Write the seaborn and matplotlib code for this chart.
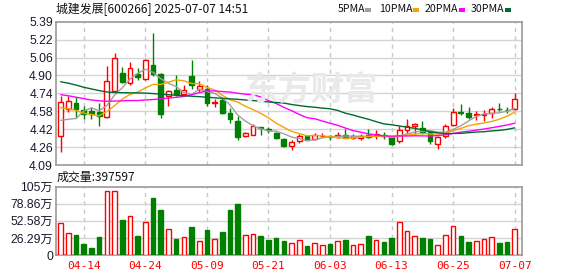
import numpy as np
import pandas as pd
import matplotlib
matplotlib.use("Agg")
import matplotlib.pyplot as plt
from matplotlib.patches import Rectangle
import seaborn as sns

# ---------------- data ----------------
dates = ["04-09", "04-10", "04-11", "04-14", "04-15", "04-16", "04-17", "04-18", "04-21", "04-22",
         "04-23", "04-24", "04-25", "04-28", "04-29", "04-30", "05-06", "05-07", "05-08", "05-09",
         "05-12", "05-13", "05-14", "05-15", "05-16", "05-19", "05-20", "05-21", "05-22", "05-23",
         "05-26", "05-27", "05-28", "05-29", "05-30", "06-03", "06-04", "06-05", "06-06", "06-09",
         "06-10", "06-11", "06-12", "06-13", "06-16", "06-17", "06-18", "06-19", "06-20", "06-23",
         "06-24", "06-25", "06-26", "06-27", "06-30", "07-01", "07-02", "07-03", "07-04", "07-07"]

open_ = [4.350, 4.600, 4.650, 4.589, 4.580, 4.571, 4.528, 4.764, 4.927, 4.831,
         4.918, 4.867, 4.997, 4.914, 4.714, 4.771, 4.735, 4.897, 4.783, 4.781,
         4.652, 4.678, 4.561, 4.491, 4.350, 4.365, 4.432, 4.415, 4.380, 4.325,
         4.260, 4.310, 4.349, 4.328, 4.350, 4.352, 4.343, 4.365, 4.334, 4.337,
         4.360, 4.360, 4.362, 4.345, 4.307, 4.412, 4.446, 4.425, 4.385, 4.277,
         4.352, 4.456, 4.570, 4.560, 4.543, 4.545, 4.558, 4.600, 4.592, 4.595]
close = [4.664, 4.674, 4.595, 4.555, 4.553, 4.535, 4.852, 5.057, 4.846, 4.967,
         4.884, 5.042, 4.915, 4.557, 4.759, 4.738, 4.769, 4.817, 4.808, 4.651,
         4.660, 4.560, 4.506, 4.343, 4.380, 4.440, 4.424, 4.409, 4.331, 4.259,
         4.299, 4.350, 4.318, 4.365, 4.353, 4.340, 4.365, 4.337, 4.349, 4.355,
         4.345, 4.368, 4.350, 4.285, 4.412, 4.445, 4.458, 4.390, 4.310, 4.343,
         4.445, 4.572, 4.562, 4.525, 4.550, 4.556, 4.595, 4.595, 4.587, 4.692]
high = [4.715, 4.717, 4.708, 4.622, 4.615, 4.648, 4.988, 5.109, 4.976, 5.021,
        4.968, 5.048, 5.288, 4.925, 4.770, 4.907, 4.817, 5.043, 4.853, 4.817,
        4.690, 4.695, 4.606, 4.530, 4.389, 4.464, 4.436, 4.434, 4.392, 4.334,
        4.320, 4.371, 4.352, 4.380, 4.380, 4.365, 4.386, 4.416, 4.368, 4.374,
        4.416, 4.410, 4.385, 4.347, 4.440, 4.505, 4.470, 4.488, 4.390, 4.355,
        4.466, 4.607, 4.645, 4.614, 4.583, 4.588, 4.612, 4.648, 4.612, 4.740]
low = [4.204, 4.567, 4.515, 4.510, 4.508, 4.444, 4.515, 4.748, 4.831, 4.813,
       4.862, 4.862, 4.893, 4.515, 4.627, 4.716, 4.716, 4.783, 4.755, 4.627,
       4.615, 4.553, 4.470, 4.313, 4.340, 4.362, 4.362, 4.380, 4.325, 4.250,
       4.225, 4.290, 4.313, 4.319, 4.340, 4.319, 4.334, 4.331, 4.330, 4.319,
       4.335, 4.328, 4.322, 4.272, 4.290, 4.370, 4.370, 4.370, 4.280, 4.238,
       4.335, 4.444, 4.540, 4.505, 4.500, 4.490, 4.520, 4.580, 4.560, 4.590]

# volume in 万 (10k shares)
volume = [48.7, 33.3, 30.3, 16.9, 10.8, 27.2, 98.0, 98.0, 53.9, 59.5,
          29.2, 50.3, 87.7, 69.2, 39.5, 24.6, 27.2, 42.6, 21.5, 38.5,
          24.6, 35.4, 69.2, 78.5, 30.3, 31.8, 29.2, 23.1, 26.2, 21.5,
          18.5, 22.6, 13.8, 18.0, 14.9, 16.9, 21.5, 23.1, 14.9, 16.9,
          29.2, 22.6, 20.0, 26.2, 50.3, 36.4, 29.2, 26.2, 24.6, 14.9,
          30.3, 44.1, 29.2, 20.0, 21.5, 24.1, 27.2, 18.5, 20.0, 39.76]

ma5 = [4.495, 4.505, 4.512, 4.580, 4.608, 4.582, 4.630, 4.725, 4.790, 4.870,
       4.921, 4.959, 4.931, 4.873, 4.831, 4.802, 4.748, 4.728, 4.778, 4.757,
       4.740, 4.698, 4.636, 4.543, 4.489, 4.446, 4.419, 4.399, 4.397, 4.373,
       4.344, 4.330, 4.311, 4.318, 4.336, 4.346, 4.349, 4.353, 4.350, 4.351,
       4.350, 4.351, 4.353, 4.341, 4.352, 4.372, 4.389, 4.397, 4.402, 4.388,
       4.388, 4.412, 4.446, 4.489, 4.531, 4.553, 4.558, 4.564, 4.577, 4.605]
ma10 = [4.610, 4.600, 4.585, 4.560, 4.548, 4.537, 4.575, 4.628, 4.688, 4.730,
        4.752, 4.789, 4.821, 4.821, 4.841, 4.862, 4.854, 4.830, 4.826, 4.794,
        4.771, 4.723, 4.682, 4.661, 4.623, 4.593, 4.559, 4.518, 4.470, 4.431,
        4.395, 4.375, 4.355, 4.358, 4.355, 4.345, 4.340, 4.332, 4.334, 4.344,
        4.348, 4.350, 4.353, 4.346, 4.352, 4.361, 4.370, 4.375, 4.372, 4.370,
        4.380, 4.401, 4.422, 4.446, 4.460, 4.471, 4.485, 4.505, 4.533, 4.568]
ma20 = [4.728, 4.718, 4.705, 4.692, 4.680, 4.672, 4.668, 4.670, 4.672, 4.675,
        4.675, 4.680, 4.684, 4.690, 4.697, 4.704, 4.712, 4.727, 4.746, 4.762,
        4.762, 4.756, 4.752, 4.741, 4.732, 4.728, 4.707, 4.674, 4.648, 4.613,
        4.583, 4.549, 4.519, 4.510, 4.489, 4.469, 4.450, 4.425, 4.402, 4.388,
        4.372, 4.363, 4.354, 4.352, 4.354, 4.353, 4.355, 4.354, 4.353, 4.357,
        4.364, 4.376, 4.388, 4.396, 4.406, 4.416, 4.428, 4.440, 4.453, 4.469]
ma30 = [4.845, 4.832, 4.815, 4.795, 4.780, 4.765, 4.752, 4.748, 4.746, 4.745,
        4.744, 4.742, 4.738, 4.733, 4.728, 4.722, 4.718, 4.714, 4.710, 4.705,
        4.700, 4.695, 4.690, 4.686, 4.680, 4.675, 4.668, 4.662, 4.657, 4.652,
        4.639, 4.629, 4.620, 4.614, 4.606, 4.600, 4.585, 4.560, 4.543, 4.523,
        4.505, 4.483, 4.463, 4.455, 4.444, 4.433, 4.423, 4.409, 4.392, 4.382,
        4.374, 4.376, 4.377, 4.383, 4.389, 4.392, 4.399, 4.404, 4.413, 4.427]

price_ticks = [4.09, 4.26, 4.42, 4.58, 4.74, 4.90, 5.06, 5.22, 5.39]
vol_tick_labels = ["0", "26.29万", "52.58万", "78.86万", "105万"]
vol_max = 105.15
date_tick_labels = ["04-14", "04-24", "05-09", "05-21", "06-03", "06-13", "06-25", "07-07"]
title = "城建发展[600266] 2025-07-07 14:51"
ma_names = ["5PMA", "10PMA", "20PMA", "30PMA"]
ma_colors = ["#a0a0a0", "#f5a300", "#ff00ff", "#006b2e"]
vol_text = "成交量:397597"

# ---------------- style ----------------
sns.set_style("white")
plt.rcParams["font.family"] = ["Liberation Sans", "Noto Sans CJK SC", "DejaVu Sans"]

RED = "#ff0000"
GREEN = "#008000"
GRID = "#d4d4d4"
DASH = "#c8c8c8"
FRAME = "#9a9a9a"
TXT = "#1a1a2e"

W, H = 578, 276
fig = plt.figure(figsize=(W / 100, H / 100), dpi=100)
fig.patch.set_facecolor("white")


def fx(px):
    return px / W


def fy(py):
    return 1 - py / H


L, R = 55.7, 522.3
ax = fig.add_axes([fx(L), fy(165.0), (R - L) / W, (165.0 - 21.7) / H])
axv = fig.add_axes([fx(L), fy(255.0), (R - L) / W, (255.0 - 186.7) / H])

n = len(dates)
x = np.arange(n)
o = np.array(open_)
c = np.array(close)
hi = np.array(high)
lo = np.array(low)
up = c >= o
edge = np.where(up, RED, GREEN)
face = np.where(up, "white", GREEN)

# price ticks evenly spaced between min/max
ymin, ymax = 4.09, 5.39
tick_pos = np.linspace(ymin, ymax, len(price_ticks))

# grid
for yv in tick_pos[1:-1]:
    ax.axhline(yv, color=GRID, lw=1, zorder=0)
tick_idx = [dates.index(d) for d in date_tick_labels]
for ti in tick_idx:
    ax.axvline(ti, color=DASH, lw=1, ls=(0, (3, 3)), zorder=0)
    axv.axvline(ti, color=DASH, lw=1, ls=(0, (3, 3)), zorder=0)

# watermark
fig.text(fx(311), fy(91), "东方财富", fontsize=24, color="#e9e9ec",
         family=["Noto Sans CJK SC"], fontweight="bold", ha="center", va="center", zorder=0)

# candles
ax.vlines(x, lo, hi, colors=edge, lw=1, zorder=2)
bh = np.maximum(np.abs(c - o), 0.004)
ax.bar(x, bh, bottom=np.minimum(o, c), width=0.62, color=face, edgecolor=edge,
       linewidth=1, zorder=3)

# moving averages with seaborn
ma_df = pd.DataFrame({"x": np.tile(x, 4),
                      "val": np.concatenate([ma5, ma10, ma20, ma30]),
                      "ma": np.repeat(ma_names, n)})
sns.lineplot(data=ma_df, x="x", y="val", hue="ma", palette=dict(zip(ma_names, ma_colors)),
             ax=ax, legend=False, linewidth=1.0, zorder=4)

ax.set_xlim(-0.65, n - 1 + 0.99)
ax.set_ylim(ymin, ymax)
ax.set_yticks(tick_pos)
ax.set_yticklabels([f"{t:.2f}" for t in price_ticks])
ax.set_xticks([])
ax.set_xlabel("")
ax.set_ylabel("")
ax.tick_params(axis="y", length=0, pad=2, labelsize=8.7, labelcolor=TXT)
for s in ax.spines.values():
    s.set_color(FRAME)
    s.set_linewidth(1.2)

# volume
for yv in np.linspace(0, vol_max, 5)[1:-1]:
    axv.axhline(yv, color=GRID, lw=1, zorder=0)
axv.bar(x, volume, width=0.6, color=face, edgecolor=edge, linewidth=1, zorder=3)
axv.set_xlim(-0.65, n - 1 + 0.99)
axv.set_ylim(0, vol_max)
axv.set_yticks(np.linspace(0, vol_max, 5))
axv.set_yticklabels(vol_tick_labels)
axv.set_xticks(tick_idx)
axv.set_xticklabels(date_tick_labels, family=["DejaVu Sans Mono"], fontsize=8, color=RED)
axv.tick_params(axis="y", length=0, pad=2, labelsize=8.7, labelcolor=TXT)
axv.tick_params(axis="x", length=0, pad=4)
for s in axv.spines.values():
    s.set_color(FRAME)
    s.set_linewidth(1.2)

# header texts
fig.text(fx(56), fy(9.5), title, fontsize=8.6, family=["Noto Sans CJK SC"], color="#111111",
         ha="left", va="center")
legend_x = [338, 379, 425, 471]
sq_x = [365, 413, 459, 505]
for name, col, lx, sx in zip(ma_names, ma_colors, legend_x, sq_x):
    fig.text(fx(lx), fy(9.5), name, fontsize=7.6, family=["Noto Sans CJK SC"], color="#111111",
             ha="left", va="center")
    fig.add_artist(Rectangle((fx(sx), fy(11.5)), 6 / W, 4 / H, transform=fig.transFigure,
                             facecolor=col, edgecolor="none"))
fig.text(fx(57), fy(177.5), vol_text, fontsize=8.6, family=["Noto Sans CJK SC"], color="#111111",
         ha="left", va="center")

fig.savefig("out.png", dpi=100, facecolor="white")
